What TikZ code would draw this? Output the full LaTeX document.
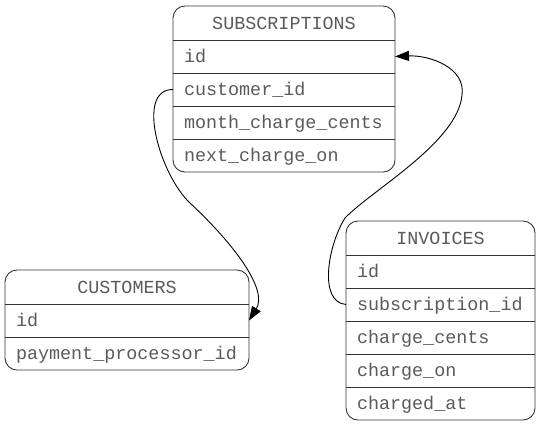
\documentclass[tikz,border=0pt]{standalone}
\usepackage{fontspec}
\usepackage{xcolor}
\usepackage{tikz}
\usetikzlibrary{positioning,arrows.meta}
\newfontfamily\tblfont{Liberation Mono}
\definecolor{ink}{HTML}{5A5A5A}
\definecolor{rule}{HTML}{333333}
\tikzset{
  tblframe/.style={draw=rule, line width=0.9pt, rounded corners=12bp},
  rowsep/.style={draw=rule, line width=0.9pt},
  tblhead/.style={minimum width=#1, minimum height=34bp, inner sep=0pt, outer sep=0pt,
    text height=14bp, text depth=2bp, text=ink, font=\tblfont\fontsize{18.4bp}{20bp}\selectfont},
  tblrow/.style={text width=#1, align=left, minimum height=33bp, inner xsep=11bp, inner ysep=0pt,
    outer sep=0pt, text height=14bp, text depth=2bp, text=ink, font=\tblfont\fontsize{18.4bp}{20bp}\selectfont},
  link/.style={draw=black, line width=0.9pt, -{Triangle[length=14bp,width=10bp]}},
}

\begin{document}
\begin{tikzpicture}[x=1bp,y=-1bp]
  \useasboundingbox (0,0) rectangle (540,426);

  % subscriptions
  \node[tblhead=222bp, anchor=north west] (sub-head) at (173,6) {SUBSCRIPTIONS};
  \node[tblrow=200bp, below=0pt of sub-head] (sub-id) {id};
  \node[tblrow=200bp, below=0pt of sub-id] (sub-cid) {customer\_id};
  \node[tblrow=200bp, below=0pt of sub-cid] (sub-mcc) {month\_charge\_cents};
  \node[tblrow=200bp, below=0pt of sub-mcc] (sub-nco) {next\_charge\_on};
  \draw[tblframe] (sub-head.north west) rectangle (sub-nco.south east);
  \foreach \r in {sub-head,sub-id,sub-cid,sub-mcc}
    \draw[rowsep] (\r.south west) -- (\r.south east);

  % customers
  \node[tblhead=244bp, anchor=north west] (cus-head) at (5,270) {CUSTOMERS};
  \node[tblrow=222bp, below=0pt of cus-head] (cus-id) {id};
  \node[tblrow=222bp, below=0pt of cus-id] (cus-ppid) {payment\_processor\_id};
  \draw[tblframe] (cus-head.north west) rectangle (cus-ppid.south east);
  \foreach \r in {cus-head,cus-id}
    \draw[rowsep] (\r.south west) -- (\r.south east);

  % invoices
  \node[tblhead=189bp, anchor=north west] (inv-head) at (346,221) {INVOICES};
  \node[tblrow=167bp, below=0pt of inv-head] (inv-id) {id};
  \node[tblrow=167bp, below=0pt of inv-id] (inv-sid) {subscription\_id};
  \node[tblrow=167bp, below=0pt of inv-sid] (inv-cc) {charge\_cents};
  \node[tblrow=167bp, below=0pt of inv-cc] (inv-con) {charge\_on};
  \node[tblrow=167bp, below=0pt of inv-con] (inv-cat) {charged\_at};
  \draw[tblframe] (inv-head.north west) rectangle (inv-cat.south east);
  \foreach \r in {inv-head,inv-id,inv-sid,inv-cc,inv-con}
    \draw[rowsep] (\r.south west) -- (\r.south east);

  % foreign keys
  \draw[link] (sub-cid.west) .. controls (135,89) and (160,175) .. (190,203)
    .. controls (235,245) and (268,290) .. (cus-id.east);
  \draw[link] (inv-sid.west) .. controls (318,302) and (328,245) .. (345,218)
    .. controls (372,190) and (458,142) .. (462,95)
    .. controls (466,68) and (430,55) .. (sub-id.east);
\end{tikzpicture}
\end{document}
